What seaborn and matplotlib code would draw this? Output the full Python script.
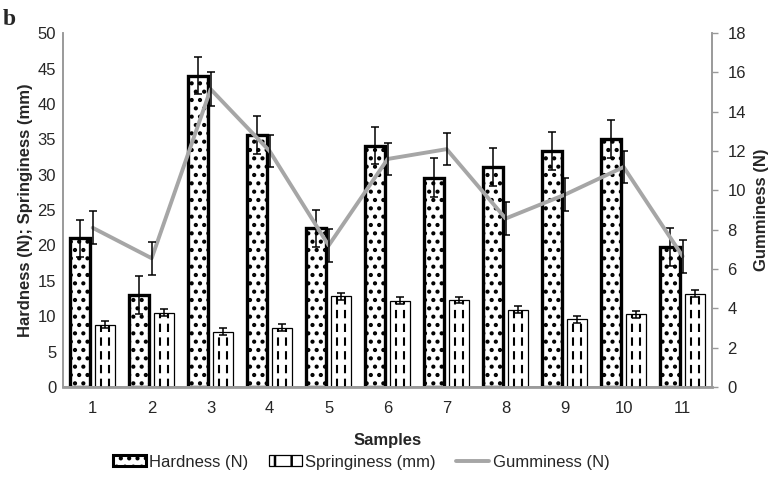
import matplotlib
matplotlib.use("Agg")
import matplotlib.pyplot as plt
import numpy as np
import pandas as pd
import seaborn as sns
from matplotlib.lines import Line2D
from matplotlib.patches import Patch

samples = ["1", "2", "3", "4", "5", "6", "7", "8", "9", "10", "11"]
hardness = [21.0, 13.0, 44.0, 35.6, 22.4, 34.1, 29.6, 31.1, 33.3, 35.0, 19.8]
hardness_err = [2.6, 2.7, 2.6, 2.7, 2.6, 2.6, 2.7, 2.7, 2.7, 2.7, 2.7]
springiness = [8.8, 10.5, 7.8, 8.4, 12.8, 12.2, 12.3, 10.9, 9.6, 10.3, 13.2]
springiness_err = [0.5, 0.5, 0.5, 0.55, 0.55, 0.5, 0.45, 0.5, 0.5, 0.5, 0.5]
gumminess = [8.1, 6.55, 15.15, 12.0, 7.2, 11.6, 12.1, 8.57, 9.78, 11.19, 6.65]
gumminess_err = [0.85, 0.83, 0.85, 0.83, 0.83, 0.82, 0.82, 0.82, 0.83, 0.83, 0.85]

sns.set_style("white")
plt.rcParams["font.family"] = ["Liberation Sans", "DejaVu Sans"]
plt.rcParams["hatch.linewidth"] = 1.8

GREY = "#A6A6A6"
AXIS_GREY = "#9A9A9A"

df = pd.DataFrame({
    "Sample": samples * 2,
    "Measure": ["Hardness (N)"] * len(samples) + ["Springiness (mm)"] * len(samples),
    "Value": hardness + springiness,
})

fig = plt.figure(figsize=(7.8, 4.88), dpi=100)
ax = fig.add_axes([0.081, 0.207, 0.832, 0.725])

sns.barplot(data=df, x="Sample", y="Value", hue="Measure", palette=["white", "white"],
            width=0.84, gap=0.2, edgecolor="black", errorbar=None, legend=False, ax=ax)

n = len(samples)
hard_bars = ax.patches[:n]
spring_bars = ax.patches[n:2 * n]

for p in hard_bars:
    p.set_linewidth(2.4)
    p.set_hatch("..")
    p.set_zorder(2)
for p in spring_bars:
    p.set_linewidth(0.9)
    p.set_zorder(2)
    x0, w, h = p.get_x(), p.get_width(), p.get_height()
    ax.vlines([x0 + 0.3 * w, x0 + 0.72 * w], 0, h, colors="black",
              linestyles=(0, (4, 2.6)), linewidth=1.5, zorder=3)

hard_x = [p.get_x() + p.get_width() / 2 for p in hard_bars]
spring_x = [p.get_x() + p.get_width() / 2 for p in spring_bars]
ax.errorbar(hard_x, hardness, yerr=hardness_err, fmt="none", ecolor="black",
            elinewidth=1.1, capsize=3, capthick=1.1, zorder=4)
ax.errorbar(spring_x, springiness, yerr=springiness_err, fmt="none", ecolor="black",
            elinewidth=1.1, capsize=3, capthick=1.1, zorder=4)

ax.set_ylim(0, 50)
ax.set_yticks(np.arange(0, 51, 5))
ax.set_xlabel("Samples", fontsize=12, fontweight="bold", labelpad=12)
ax.set_ylabel("Hardness (N); Springiness (mm)", fontsize=12, fontweight="bold", labelpad=3)
ax.tick_params(axis="y", length=0, labelsize=12, pad=5)
ax.tick_params(axis="x", length=0, labelsize=12, pad=10)

ax2 = ax.twinx()
positions = np.arange(n)
sns.lineplot(x=positions, y=gumminess, ax=ax2, color=GREY, linewidth=2.8, zorder=3)
ax2.errorbar(positions, gumminess, yerr=gumminess_err, fmt="none", ecolor="black",
             elinewidth=1.1, capsize=3, capthick=1.1, zorder=4)
ax2.set_ylim(0, 18)
ax2.set_yticks(np.arange(0, 19, 2))
ax2.set_ylabel("Gumminess (N)", fontsize=12, fontweight="bold", labelpad=6)
ax2.tick_params(axis="y", length=4, width=1, color=AXIS_GREY, labelsize=12, pad=7, direction="out")
ax.set_xlim(-0.5, n - 0.5)

for a in (ax, ax2):
    a.spines["top"].set_visible(False)
    for side in ("left", "right", "bottom"):
        a.spines[side].set_color(AXIS_GREY)
        a.spines[side].set_linewidth(1.2)
ax.spines["bottom"].set_linewidth(2)

handles = [
    Patch(facecolor="white", edgecolor="black", hatch="..", linewidth=2.2, label="Hardness (N)"),
    Patch(facecolor="white", edgecolor="black", hatch="|", linewidth=0.9, label="Springiness (mm)"),
    Line2D([], [], color=GREY, linewidth=2.8, label="Gumminess (N)"),
]
fig.legend(handles=handles, loc="center", bbox_to_anchor=(0.463, 0.053), ncol=3, frameon=False,
           fontsize=12, handlelength=2.0, handleheight=0.6, handletextpad=0.2, columnspacing=1.2)

fig.text(0.004, 0.949, "b", fontsize=17, fontweight="bold", family=["Liberation Serif", "DejaVu Serif"],
         va="baseline", ha="left")

fig.savefig("out.png", dpi=100)
